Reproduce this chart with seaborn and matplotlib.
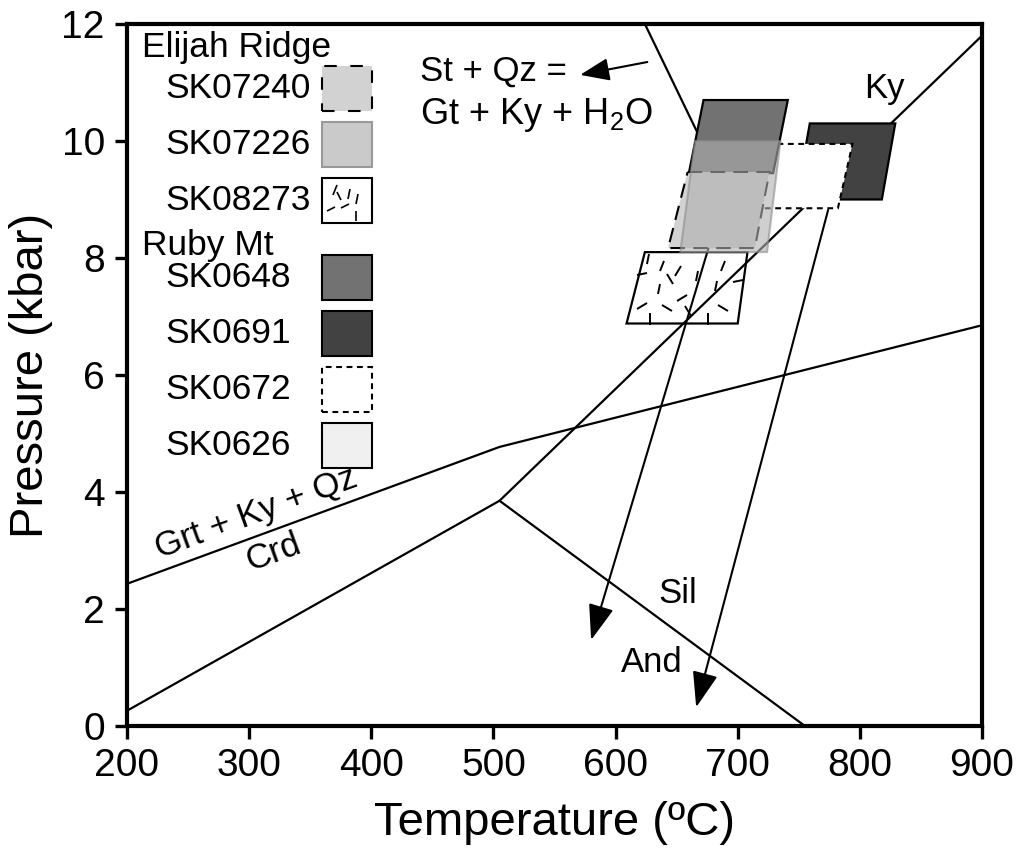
import numpy as np
import pandas as pd
import matplotlib
matplotlib.use("Agg")
import matplotlib.pyplot as plt
from matplotlib.markers import MarkerStyle
from matplotlib.transforms import Affine2D
from matplotlib.patches import Rectangle
import seaborn as sns

# ---------------------------------------------------------------
# Phase boundaries (temperature in °C, pressure in kbar)
# ---------------------------------------------------------------
ky_sil_T = [505, 900]
ky_sil_P = [3.85, 11.8]
ky_and_T = [200, 505]
ky_and_P = [0.26, 3.85]
and_sil_T = [505, 755]
and_sil_P = [3.85, 0.0]
crd_T = [200, 505, 900]
crd_P = [2.43, 4.77, 6.85]
st_T = [624, 668]
st_P = [12.0, 10.1]

# ---------------------------------------------------------------
# P-T estimates (corners: upper-left, upper-right, lower-right, lower-left)
# ---------------------------------------------------------------
sk07240_T = [659, 726, 714, 643]
sk07240_P = [9.47, 9.47, 8.17, 8.17]
sk07226_T = [665, 735, 724, 653]
sk07226_P = [10.0, 10.0, 8.1, 8.1]
sk08273_T = [624, 708, 700, 609]
sk08273_P = [8.1, 8.1, 6.88, 6.88]
sk0648_T = [672, 741, 729, 660]
sk0648_P = [10.7, 10.7, 9.45, 9.45]
sk0691_T = [759, 829, 818, 748]
sk0691_P = [10.3, 10.3, 9.0, 9.0]
sk0672_T = [724, 794, 782, 710]
sk0672_P = [9.95, 9.95, 8.85, 8.85]

# Retrograde paths (start, end)
path1_T = [694, 580]
path1_P = [9.42, 1.47]
path2_T = [774, 666]
path2_P = [8.82, 0.32]

# Legend groups
elijah_samples = ["SK07240", "SK07226", "SK08273"]
ruby_samples = ["SK0648", "SK0691", "SK0672", "SK0626"]

x_ticks = [200, 300, 400, 500, 600, 700, 800, 900]
y_ticks = [0, 2, 4, 6, 8, 10, 12]

# Short-dash texture used for SK08273 (u, v in the unit square, angle in deg)
texture_u = [0.05, 0.20, 0.36, 0.30, 0.03, 0.22, 0.45, 0.33, 0.10, 0.53,
             0.20, 0.73, 0.78, 0.75, 0.85, 0.55, 0.95]
texture_v = [0.90, 0.80, 0.73, 0.62, 0.69, 0.48, 0.36, 0.22, 0.25, 0.18,
             0.06, 0.06, 0.80, 0.53, 0.22, 0.67, 0.60]
texture_a = [80, 70, 55, -60, 10, 80, 30, -30, 30, -60,
             90, 90, 70, 80, -35, 80, 10]

# ---------------------------------------------------------------
sns.set_theme(style="ticks")
plt.rcParams["font.family"] = ["Liberation Sans", "DejaVu Sans"]
plt.rcParams["mathtext.fontset"] = "custom"
plt.rcParams["mathtext.rm"] = "Liberation Sans"
plt.rcParams["mathtext.it"] = "Liberation Sans:italic"
plt.rcParams["text.color"] = "black"
plt.rcParams["axes.labelcolor"] = "black"
plt.rcParams["xtick.color"] = "black"
plt.rcParams["ytick.color"] = "black"

fig = plt.figure(figsize=(10.24, 8.66), dpi=100)
ax = fig.add_axes([0.124, 0.1617, 0.835, 0.8106])

# boundaries as one long table
bounds = pd.concat([
    pd.DataFrame({"T": ky_sil_T, "P": ky_sil_P, "curve": "Ky-Sil"}),
    pd.DataFrame({"T": ky_and_T, "P": ky_and_P, "curve": "Ky-And"}),
    pd.DataFrame({"T": and_sil_T, "P": and_sil_P, "curve": "And-Sil"}),
    pd.DataFrame({"T": crd_T, "P": crd_P, "curve": "Crd"}),
    pd.DataFrame({"T": st_T, "P": st_P, "curve": "St"}),
], ignore_index=True)
sns.lineplot(data=bounds, x="T", y="P", units="curve", estimator=None,
             sort=False, color="black", lw=1.6, ax=ax, zorder=2)


def quad_point(T, P, u, v):
    # bilinear position inside a quadrilateral given (u, v) in [0, 1]
    tl, tr, br, bl = [np.array(c) for c in zip(T, P)]
    top = tl + (tr - tl) * u
    bot = bl + (br - bl) * u
    return bot + (top - bot) * v


def dash_texture(axis, points, idx=None, size=8, z=3):
    idx = range(len(texture_u)) if idx is None else idx
    for i in idx:
        x, y = points(texture_u[i], texture_v[i])
        m = MarkerStyle("|", transform=Affine2D().rotate_deg(texture_a[i] - 90))
        axis.plot([x], [y], marker=m, ms=size, mew=1.4, color="black",
                  linestyle="none", zorder=z)


# P-T boxes
ax.fill(sk08273_T, sk08273_P, facecolor="none", edgecolor="black", lw=1.6, zorder=1.5)
dash_texture(ax, lambda u, v: quad_point(sk08273_T, sk08273_P, u, v), z=1.6)
ax.fill(sk0691_T, sk0691_P, facecolor="#424242", edgecolor="black", lw=1.6, zorder=3)
ax.fill(sk0672_T, sk0672_P, facecolor="white", edgecolor="black", lw=1.5,
        linestyle=(0, (2.8, 2.2)), zorder=3.5)
ax.fill(sk0648_T, sk0648_P, facecolor="#727272", edgecolor="black", lw=1.6, zorder=4)
ax.fill(sk07240_T, sk07240_P, facecolor="#d2d2d2", edgecolor="black", lw=1.5,
        linestyle=(0, (7, 4)), zorder=4.5)
ax.fill(sk07226_T, sk07226_P, facecolor="#b0b0b0", edgecolor="#8c8c8c", lw=1.5,
        alpha=0.6, zorder=5)

# retrograde paths
arrow_kw = dict(arrowstyle="-|>,head_length=1.0,head_width=0.36", color="black",
                lw=1.5, mutation_scale=22, shrinkA=0, shrinkB=0)
ax.annotate("", xy=(path1_T[1], path1_P[1]), xytext=(path1_T[0], path1_P[0]),
            arrowprops=arrow_kw, zorder=4.2)
ax.annotate("", xy=(path2_T[1], path2_P[1]), xytext=(path2_T[0], path2_P[0]),
            arrowprops=arrow_kw, zorder=4.2)

# reaction label with pointer
ax.annotate("", xy=(571, 11.13), xytext=(626, 11.35),
            arrowprops=dict(arrowstyle="-|>,head_length=0.9,head_width=0.35",
                            color="black", lw=1.5, mutation_scale=20,
                            shrinkA=0, shrinkB=0))
txt = dict(fontsize=25, color="black")
ax.text(440, 11.2, "St + Qz =", ha="left", va="center", **txt)
ax.text(440, 10.45, r"Gt + Ky + H$_{\mathregular{2}}$O", ha="left", va="center",
        fontsize=26, color="black")
ax.text(820, 10.9, "Ky", ha="center", va="center", **txt)
ax.text(651, 2.27, "Sil", ha="center", va="center", **txt)
ax.text(630, 1.09, "And", ha="center", va="center", **txt)
ax.text(306, 3.64, "Grt + Ky + Qz", ha="center", va="center", rotation=20,
        rotation_mode="anchor", **txt)
ax.text(320, 2.96, "Crd", ha="center", va="center", rotation=20,
        rotation_mode="anchor", **txt)

# ---------------------------------------------------------------
# Sample key (axes fraction coordinates)
# ---------------------------------------------------------------
sw_x, sw_w, sw_h = 0.228, 0.0585, 0.0641
lab_x, head_x = 0.0444, 0.0175
row_step = 0.0797
key_fs = 25.5
styles = {
    "SK07240": dict(facecolor="#d2d2d2", edgecolor="black", linestyle=(0, (6, 6.5))),
    "SK07226": dict(facecolor="#cacaca", edgecolor="#999999", linestyle="-"),
    "SK08273": dict(facecolor="white", edgecolor="black", linestyle="-"),
    "SK0648": dict(facecolor="#727272", edgecolor="black", linestyle="-"),
    "SK0691": dict(facecolor="#424242", edgecolor="black", linestyle="-"),
    "SK0672": dict(facecolor="white", edgecolor="black", linestyle=(0, (2.8, 2.2))),
    "SK0626": dict(facecolor="#f0f0f0", edgecolor="black", linestyle="-"),
}


def key_row(name, yc):
    ax.text(lab_x, yc, name, transform=ax.transAxes, ha="left", va="center",
            fontsize=key_fs)
    r = Rectangle((sw_x, yc - sw_h / 2), sw_w, sw_h, transform=ax.transAxes,
                  lw=1.5, zorder=6, **styles[name])
    ax.add_patch(r)
    if name == "SK08273":
        def pts(u, v):
            return (sw_x + sw_w * (0.1 + 0.8 * u), yc - sw_h / 2 + sw_h * (0.1 + 0.8 * v))
        for i in [1, 3, 6, 8, 11, 13, 15]:
            x, y = pts(texture_u[i], texture_v[i])
            m = MarkerStyle("|", transform=Affine2D().rotate_deg(texture_a[i] - 90))
            ax.plot([x], [y], marker=m, ms=7, mew=1.2, color="black",
                    linestyle="none", transform=ax.transAxes, zorder=7)


ax.text(head_x, 0.966, "Elijah Ridge", transform=ax.transAxes, ha="left",
        va="center", fontsize=key_fs)
y0 = 0.908
for k, s in enumerate(elijah_samples):
    key_row(s, y0 - k * row_step)
ax.text(head_x, 0.685, "Ruby Mt", transform=ax.transAxes, ha="left",
        va="center", fontsize=key_fs)
y1 = 0.639
for k, s in enumerate(ruby_samples):
    key_row(s, y1 - k * row_step)

# ---------------------------------------------------------------
# Axes
# ---------------------------------------------------------------
ax.set_xlim(200, 900)
ax.set_ylim(0, 12)
ax.set_xticks(x_ticks)
ax.set_yticks(y_ticks)
ax.tick_params(direction="out", length=9, width=2.4, labelsize=28, pad=7,
               color="black", labelcolor="black")
for sp in ax.spines.values():
    sp.set_visible(True)
    sp.set_linewidth(3.0)
    sp.set_color("black")
ax.set_xlabel("Temperature (ºC)", fontsize=34, labelpad=12)
ax.set_ylabel("Pressure (kbar)", fontsize=34, labelpad=6)
ax.grid(False)

fig.savefig("out.png", dpi=100)
